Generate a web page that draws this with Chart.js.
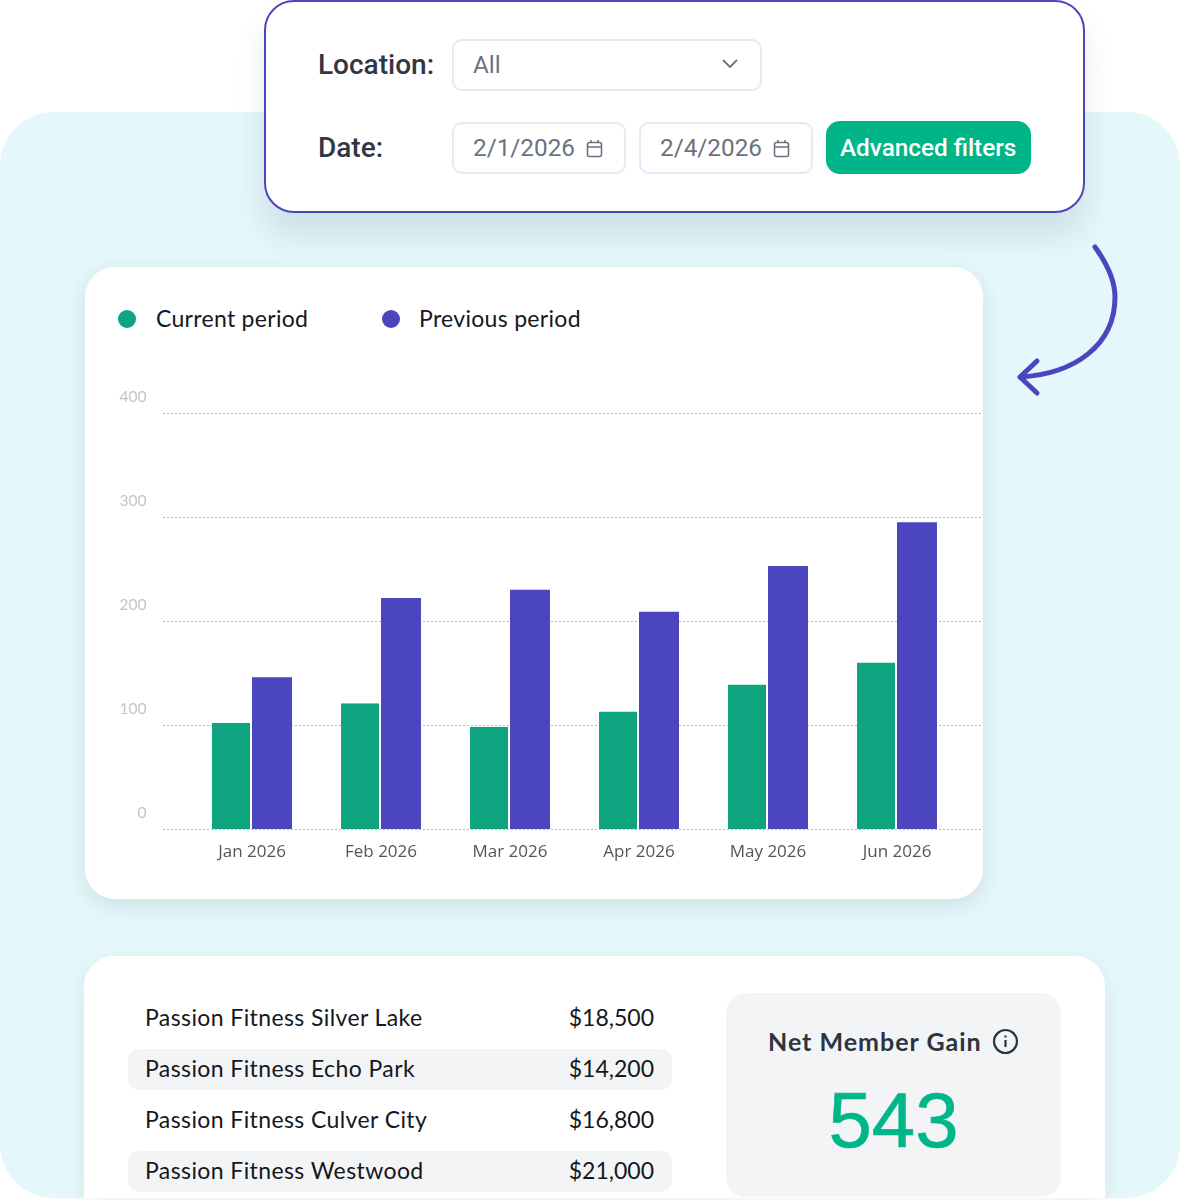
<!DOCTYPE html>
<html>
<head>
<meta charset="utf-8">
<script src="https://cdn.jsdelivr.net/npm/chart.js@4"></script>
<style>
body { margin: 0; background: #fff; width: 1180px; height: 1200px; position: relative; overflow: hidden; font-family: Inter, sans-serif; }
div, canvas, svg { position: absolute; }
.txt { white-space: nowrap; transform: translateY(-50%); }
.input { border: 2px solid #e9e8f6; border-radius: 10px; box-sizing: border-box; background: #fff; }
.lbl { font: 500 28px Roboto, sans-serif; color: #2f3746; }
.val { font: 400 24.3px Roboto, sans-serif; color: #6b7280; }
.leg { font: 400 23px Lato, sans-serif; letter-spacing: .3px; color: #14171c; }
.row { font: 400 23px Lato, sans-serif; letter-spacing: .4px; color: #14171c; }
.angka { letter-spacing: 0; transform: translate(-100%, -50%); }
</style>
</head>
<body>
<div style="left:0;top:112px;width:1180px;height:1086px;background:#e4f7fa;border-radius:54px"></div>

<div style="left:264px;top:0;width:821px;height:213px;box-sizing:border-box;background:#fff;border:2.5px solid #4b46c0;border-radius:30px;box-shadow:0 22px 30px rgba(40,70,90,.12)"></div>
<div class="txt lbl" style="left:318px;top:64px">Location:</div>
<div class="input" style="left:452px;top:39px;width:310px;height:52px"></div>
<div class="txt val" style="left:473px;top:64px">All</div>
<svg style="left:720px;top:57px" width="20" height="16" fill="none" stroke="#6b7280" stroke-width="1.8"><path d="M3 3l7 7 7-7"/></svg>
<div class="txt lbl" style="left:318px;top:147px">Date:</div>
<div class="input" style="left:452px;top:122px;width:174px;height:52px"></div>
<div class="txt val" style="left:473px;top:147px">2/1/2026</div>
<svg style="left:586px;top:139px" width="17" height="19" fill="none" stroke="#6b7280" stroke-width="1.6"><rect x="1.5" y="3.5" width="14" height="14" rx="2"/><path d="M1.5 8h14M5 1v3M12 1v3"/></svg>
<div class="input" style="left:639px;top:122px;width:174px;height:52px"></div>
<div class="txt val" style="left:660px;top:147px">2/4/2026</div>
<svg style="left:773px;top:139px" width="17" height="19" fill="none" stroke="#6b7280" stroke-width="1.6"><rect x="1.5" y="3.5" width="14" height="14" rx="2"/><path d="M1.5 8h14M5 1v3M12 1v3"/></svg>
<div style="left:826px;top:121px;width:205px;height:53px;background:#00b588;border-radius:14px"></div>
<div class="txt" style="left:840px;top:147px;font:500 24.3px Roboto,sans-serif;color:#fff">Advanced filters</div>

<svg style="left:0;top:0" width="1180" height="420" fill="none" stroke="#4b46c0" stroke-width="5" stroke-linecap="round" stroke-linejoin="round">
<path d="M1095 247C1108 265 1115 282 1115 297C1115 345 1075 374 1020 377"/>
<path d="M1037 361L1020 377L1037 393"/>
</svg>

<div style="left:85px;top:267px;width:898px;height:632px;background:#fff;border-radius:30px;box-shadow:0 6px 20px rgba(40,70,90,.12)"></div>
<div id="legend"></div>
<canvas id="barchartPeriode" style="left:85px;top:380px" width="898" height="500"></canvas>

<div style="left:84px;top:956px;width:1021px;height:242px;background:#fff;border-radius:30px 30px 0 0;box-shadow:0 6px 20px rgba(40,70,90,.08)"></div>
<div id="rows"></div>
<div style="left:726px;top:993px;width:335px;height:204px;background:#f3f4f6;border-radius:20px"></div>
<div class="txt" style="left:768px;top:1041px;font:700 25px Lato,sans-serif;letter-spacing:1px;color:#2d3440">Net Member Gain</div>
<svg style="left:992px;top:1028px" width="27" height="27" fill="none" stroke="#2d3440" stroke-width="2.2"><circle cx="13.5" cy="13.5" r="11.5"/><path d="M13.5 12v7M13.5 7.5v2"/></svg>
<div class="txt" style="left:726px;width:335px;text-align:center;top:1120px;font:400 78px 'Liberation Sans',sans-serif;color:#00b588;-webkit-text-stroke:.6px #00b588">543</div>

<script>
// data sample
var bulan = ["Jan 2026", "Feb 2026", "Mar 2026", "Apr 2026", "May 2026", "Jun 2026"];
var periodeSekarang = [102, 121, 98, 113, 139, 160];
var periodeSebelum = [146, 222, 230, 209, 253, 295];
var tickSumbuY = [0, 100, 200, 300, 400];
var namaLokasi = ["Passion Fitness Silver Lake", "Passion Fitness Echo Park", "Passion Fitness Culver City", "Passion Fitness Westwood"];
var nilaiLokasi = ["$18,500", "$14,200", "$16,800", "$21,000"];
var warnaSekarang = "#0ea47f";
var warnaSebelum = "#4b46c0";

// legend
var legend = document.getElementById("legend");
[["Current period", warnaSekarang, 118, 156], ["Previous period", warnaSebelum, 382, 419]].forEach(function (item) {
    legend.innerHTML +=
        '<div style="left:' + item[2] + 'px;top:310px;width:18px;height:18px;border-radius:50%;background:' + item[1] + '"></div>' +
        '<div class="txt leg" style="left:' + item[3] + 'px;top:318px">' + item[0] + "</div>";
});

// tabel lokasi
var rows = document.getElementById("rows");
namaLokasi.forEach(function (nama, i) {
    var y = 1017 + i * 51;
    var band = i % 2 == 1 ? '<div style="left:128px;top:' + (y - 19) + 'px;width:544px;height:41px;background:#f3f4f6;border-radius:10px"></div>' : "";
    rows.innerHTML += band +
        '<div class="txt row" style="left:145px;top:' + y + 'px">' + nama + "</div>" +
        '<div class="txt row angka" style="left:654px;top:' + y + 'px">' + nilaiLokasi[i] + "</div>";
});

// garis grid lebih panjang dari area bar
var gridPanjang = {
    id: "gridPanjang",
    beforeDatasetsDraw: function (chart) {
        var c = chart.ctx, y = chart.scales.y;
        c.save();
        c.strokeStyle = "#bdbdbd";
        c.lineWidth = 1;
        c.setLineDash([2, 2]);
        tickSumbuY.forEach(function (v) {
            var py = Math.round(y.getPixelForValue(v)) + 0.5;
            c.beginPath();
            c.moveTo(78, py);
            c.lineTo(898, py);
            c.stroke();
        });
        c.restore();
    },
};

// bar chart periode
var ctx = document.getElementById("barchartPeriode").getContext("2d");
var barchartPeriode = new Chart(ctx, {
    type: "bar",
    data: {
        labels: bulan,
        datasets: [
            {
                label: "Current period",
                data: periodeSekarang,
                backgroundColor: warnaSekarang,
                borderColor: "#fff",
                borderWidth: { right: 2, left: 0, top: 0, bottom: 0 },
            },
            {
                label: "Previous period",
                data: periodeSebelum,
                backgroundColor: warnaSebelum,
            },
        ],
    },
    options: {
        responsive: false,
        animation: false,
        layout: { padding: { top: 33, right: 21.5, left: 0, bottom: 0 } },
        categoryPercentage: 0.62,
        barPercentage: 1,
        plugins: { legend: { display: false }, tooltip: { enabled: false } },
        scales: {
            x: {
                grid: { display: false },
                border: { display: false },
                ticks: { color: "#555", padding: 5, font: { family: "Open Sans", size: 17 }, maxRotation: 0 },
                afterFit: function (s) { s.height = 51; s.paddingLeft = 0; s.paddingRight = 0; },
            },
            y: {
                min: 0,
                max: 400,
                afterBuildTicks: function (s) { s.ticks = tickSumbuY.map(function (v) { return { value: v }; }); },
                grid: { display: false },
                border: { display: false },
                ticks: {
                    color: "#c4c4c4",
                    padding: 33,
                    font: { family: "Lato", size: 15.5, lineHeight: 2.06 },
                    // baris kosong supaya label naik di atas garis
                    callback: function (v) { return [String(v), ""]; },
                },
                afterFit: function (s) { s.width = 102.5; s.paddingTop = 0; s.paddingBottom = 0; },
            },
        },
    },
    plugins: [gridPanjang],
});
// end bar chart periode
</script>
</body>
</html>
